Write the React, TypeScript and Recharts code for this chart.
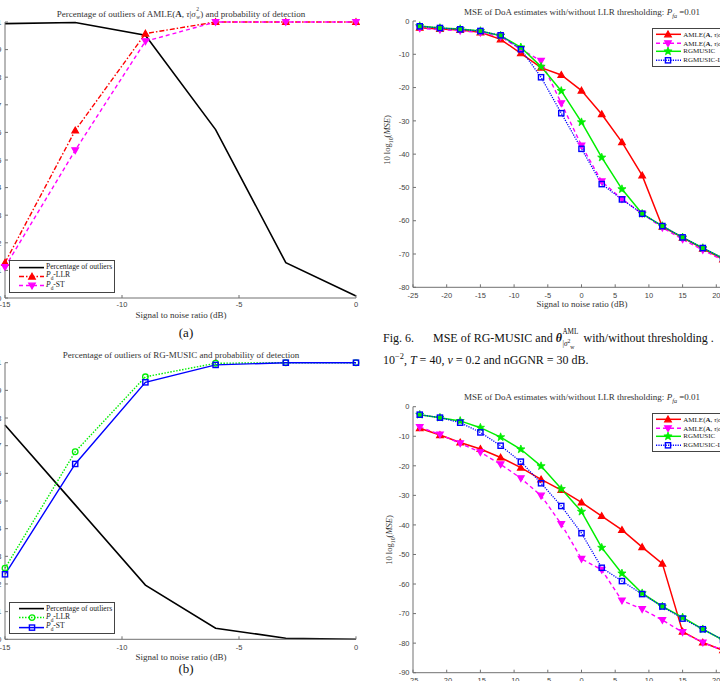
import React from 'react';
import { LineChart, Line, XAxis, YAxis, Legend } from 'recharts';

// ---- data ----
const snrShort = [-15, -12, -9, -6, -3, 0];
const outliersAmle = [0.994, 0.998, 0.952, 0.61, 0.128, 0.007];
const pdLlrAmle = [0.128, 0.607, 0.958, 1.0, 1.0, 1.0];
const pdStAmle = [0.112, 0.535, 0.93, 1.0, 1.0, 1.0];

const outliersRg = [0.775, 0.486, 0.196, 0.04, 0.004, 0.0];
const pdLlrRg = [0.257, 0.678, 0.949, 0.998, 1.0, 1.0];
const pdStRg = [0.235, 0.634, 0.929, 0.992, 1.0, 1.0];

const snrLong = [-24, -21, -18, -15, -12, -9, -6, -3, 0, 3, 6, 9, 12, 15, 18, 21];
// upper MSE plot
const mseAmleUp = [-2.0, -2.4, -2.7, -3.4, -5.5, -9.7, -14.0, -16.2, -20.9, -28.0, -36.4, -46.4, -61.8, -65.1, -68.4, -71.6];
const mseAmleLlrUp = [-2.2, -2.6, -2.9, -3.5, -4.7, -8.5, -12.0, -24.7, -37.4, -48.2, -53.5, -57.9, -62.1, -65.6, -68.8, -71.9];
const mseRgUp = [-1.5, -2.1, -2.4, -3.0, -4.4, -7.9, -13.7, -21.0, -30.4, -41.0, -50.5, -57.9, -61.6, -65.0, -68.2, -71.3];
const mseRgLlrUp = [-1.6, -2.1, -2.5, -3.0, -4.3, -8.5, -16.9, -27.7, -38.4, -49.0, -53.6, -57.9, -61.6, -65.0, -68.2, -71.3];
// lower MSE plot
const mseAmleLo = [-7.3, -9.6, -12.1, -14.3, -17.2, -20.6, -24.6, -28.2, -32.4, -37.0, -41.7, -47.5, -53.1, -76.1, -79.8, -82.4];
const mseAmleLlrLo = [-6.9, -9.4, -12.4, -15.4, -19.5, -24.2, -30.1, -39.7, -51.5, -55.2, -65.6, -68.5, -72.2, -76.3, -79.8, -82.4];
const mseRgLo = [-2.7, -3.7, -4.8, -7.1, -10.3, -14.4, -20.1, -27.8, -35.5, -47.7, -56.4, -63.1, -67.6, -71.3, -75.3, -78.9];
const mseRgLlrLo = [-2.7, -3.7, -5.4, -8.7, -13.2, -18.6, -25.9, -33.6, -42.8, -54.5, -59.0, -63.4, -67.6, -71.7, -75.3, -78.9];

const probTicks = [0, 0.1, 0.2, 0.3, 0.4, 0.5, 0.6, 0.7, 0.8, 0.9, 1];
const snrShortTicks = [-15, -10, -5, 0];
const snrLongTicks = [-25, -20, -15, -10, -5, 0, 5, 10, 15, 20, 25];
const mseTicksUp = [-80, -70, -60, -50, -40, -30, -20, -10, 0];
const mseTicksLo = [-90, -80, -70, -60, -50, -40, -30, -20, -10, 0];

const amleRows = snrShort.map((snr, i) => ({ snr, outliers: outliersAmle[i], llr: pdLlrAmle[i], st: pdStAmle[i] }));
const rgRows = snrShort.map((snr, i) => ({ snr, outliers: outliersRg[i], llr: pdLlrRg[i], st: pdStRg[i] }));
const mseUpRows = snrLong.map((snr, i) => ({ snr, amle: mseAmleUp[i], amleLlr: mseAmleLlrUp[i], rg: mseRgUp[i], rgLlr: mseRgLlrUp[i] }));
const mseLoRows = snrLong.map((snr, i) => ({ snr, amle: mseAmleLo[i], amleLlr: mseAmleLlrLo[i], rg: mseRgLo[i], rgLlr: mseRgLlrLo[i] }));

const RED = '#ff0000';
const MAGENTA = '#ff00ff';
const GREEN = '#00ee00';
const BLUE = '#0000ff';
const AXIS = '#707070';
const TICK_TEXT = '#444';
const serif = '"Liberation Serif", "Times New Roman", serif';
const sans = '"Liberation Sans", Arial, sans-serif';

function starPath(cx: number, cy: number, R: number, r: number) {
  let d = '';
  for (let i = 0; i < 10; i++) {
    const a = -Math.PI / 2 + (i * Math.PI) / 5;
    const rad = i % 2 === 0 ? R : r;
    d += (i ? 'L' : 'M') + (cx + rad * Math.cos(a)).toFixed(2) + ' ' + (cy + rad * Math.sin(a)).toFixed(2);
  }
  return d + 'Z';
}

function Marker({ shape, cx, cy, color, filled }: any) {
  const fill = filled ? color : 'none';
  const s = 3.3;
  if (shape === 'up')
    return <path d={`M${cx} ${cy - s}L${cx + s} ${cy + s * 0.75}L${cx - s} ${cy + s * 0.75}Z`} fill={fill} stroke={color} strokeWidth={1.2} />;
  if (shape === 'down')
    return <path d={`M${cx} ${cy + s}L${cx + s} ${cy - s * 0.75}L${cx - s} ${cy - s * 0.75}Z`} fill={fill} stroke={color} strokeWidth={1.2} />;
  if (shape === 'square')
    return <rect x={cx - 2.6} y={cy - 2.6} width={5.2} height={5.2} fill={fill} stroke={color} strokeWidth={1.4} />;
  if (shape === 'circle')
    return <circle cx={cx} cy={cy} r={2.8} fill={fill} stroke={color} strokeWidth={1.3} />;
  if (shape === 'star')
    return <path d={starPath(cx, cy, 4.3, 1.8)} fill={fill} stroke={color} strokeWidth={0.8} />;
  return null;
}

const dotOf = (shape: string, color: string, filled: boolean) => (p: any) =>
  <Marker key={`${p.dataKey}-${p.index}`} shape={shape} cx={p.cx} cy={p.cy} color={color} filled={filled} />;

// ticks drawn inward, labels outside
const BottomTick = (off: number) => (p: any) => (
  <g>
    <line x1={p.x} y1={p.y} x2={p.x} y2={p.y - 3} stroke={AXIS} />
    <text x={p.x} y={p.y + off} textAnchor="middle" fill={TICK_TEXT} style={{ fontFamily: sans, fontSize: 7.5 }}>
      {p.payload.value}
    </text>
  </g>
);
const LeftTick = (p: any) => (
  <g>
    <line x1={p.x} y1={p.y} x2={p.x + 3} y2={p.y} stroke={AXIS} />
    <text x={p.x - 3.5} y={p.y + 2.7} textAnchor="end" fill={TICK_TEXT} style={{ fontFamily: sans, fontSize: 7.5 }}>
      {p.payload.value}
    </text>
  </g>
);
const TopTick = (p: any) => <line x1={p.x} y1={p.y} x2={p.x} y2={p.y + 3} stroke={AXIS} />;
const RightTick = (p: any) => <line x1={p.x} y1={p.y} x2={p.x - 3} y2={p.y} stroke={AXIS} />;

// superscript over subscript, like LaTeX x^a_b (box spans baseline-1em .. baseline)
function Stack({ top, bottom, size = 0.62, width }: any) {
  return (
    <span style={{ position: 'relative', display: 'inline-block', width, height: '1em', verticalAlign: 'baseline' }}>
      <span style={{ position: 'absolute', left: 0.5, top: '-0.2em', fontSize: `${size}em`, lineHeight: 1 }}>{top}</span>
      <span style={{ position: 'absolute', left: 0.5, top: '1.2em', fontSize: `${size}em`, lineHeight: 1 }}>{bottom}</span>
    </span>
  );
}
const SigmaW = () => (
  <>
    <i>σ</i>
    <Stack top="2" bottom={<i>w</i>} width="0.5em" />
  </>
);

function LegendBox({ items, width, rowH, padTop, x1, x2, mx, textX, fontSize }: any) {
  return (
    <div style={{ width, border: '1px solid #444', background: '#fff', boxSizing: 'border-box', paddingTop: padTop, paddingBottom: padTop, overflow: 'hidden' }}>
      {items.map((it: any, i: number) => (
        <div key={i} style={{ display: 'flex', alignItems: 'center', height: rowH }}>
          <svg width={textX} height={rowH} style={{ flex: 'none' }}>
            <line x1={x1} x2={x2} y1={rowH / 2} y2={rowH / 2} stroke={it.color} strokeWidth={it.width || 1.5} strokeDasharray={it.dash} />
            {it.shape && <Marker shape={it.shape} cx={mx} cy={rowH / 2} color={it.color} filled={it.filled} />}
          </svg>
          <span style={{ fontFamily: serif, fontSize, color: '#222', whiteSpace: 'nowrap', lineHeight: 1 }}>{it.label}</span>
        </div>
      ))}
    </div>
  );
}

function Txt({ x, y, size = 9, color = '#333', rotate, children }: any) {
  return (
    <div
      style={{
        position: 'absolute', left: x, top: y,
        transform: `translate(-50%, -50%)${rotate ? ` rotate(${rotate}deg)` : ''}`,
        fontFamily: serif, fontSize: size, color, whiteSpace: 'nowrap', lineHeight: 1,
      }}
    >
      {children}
    </div>
  );
}

const Pd = ({ s }: any) => (<><i>P</i><sub style={{ fontSize: '0.7em' }}>d</sub>-{s}</>);
const amleLabel = (<>AMLE(<b>A</b>, <i>τ</i>|<SigmaW />)</>);

const legendAmle = [
  { label: 'Percentage of outliers', color: '#000', width: 1.6 },
  { label: <Pd s="LLR" />, color: RED, dash: '5 2 1.5 2', shape: 'up', filled: true },
  { label: <Pd s="ST" />, color: MAGENTA, dash: '4 3', shape: 'down', filled: true },
];
const legendRg = [
  { label: 'Percentage of outliers', color: '#000', width: 1.6 },
  { label: <Pd s="LLR" />, color: GREEN, dash: '1.5 1.5', shape: 'circle', filled: false },
  { label: <Pd s="ST" />, color: BLUE, shape: 'square', filled: false },
];
const legendMse = [
  { label: amleLabel, color: RED, shape: 'up', filled: true },
  { label: <>{amleLabel}-LLR</>, color: MAGENTA, dash: '4 3', shape: 'down', filled: true },
  { label: 'RGMUSIC', color: GREEN, shape: 'star', filled: true },
  { label: 'RGMUSIC-LLR', color: BLUE, dash: '1.2 1.2', shape: 'square', filled: false },
];

const legendPos = (left: number, top: number, width: number) => ({ left, top, width, right: 'auto', bottom: 'auto', height: 'auto' });

function ProbChart({ rows, left, top, height, plotTop, off, legend, legendTop, llrColor, llrDash, llrShape, stColor, stDash, stShape, filled }: any) {
  return (
    <div style={{ position: 'absolute', left, top }}>
      <LineChart width={395} height={height} data={rows} margin={{ top: plotTop, right: 4, bottom: 0, left: 0 }}>
        <XAxis dataKey="snr" type="number" domain={[-15, 0]} ticks={snrShortTicks} interval={0} height={12}
          tickSize={0} tickMargin={0} tickLine={false} axisLine={{ stroke: AXIS }} tick={BottomTick(off)} />
        <XAxis xAxisId="top" orientation="top" type="number" domain={[-15, 0]} ticks={snrShortTicks} interval={0} height={0}
          tickSize={0} tickMargin={0} tickLine={false} axisLine={{ stroke: AXIS }} tick={TopTick} />
        <YAxis type="number" domain={[0, 1]} ticks={probTicks} interval={0} width={40}
          tickSize={0} tickMargin={0} tickLine={false} axisLine={{ stroke: AXIS }} tick={LeftTick} />
        <YAxis yAxisId="right" orientation="right" type="number" domain={[0, 1]} ticks={probTicks} interval={0} width={0}
          tickSize={0} tickMargin={0} tickLine={false} axisLine={{ stroke: AXIS }} tick={RightTick} />
        <Line type="linear" dataKey="outliers" stroke="#000" strokeWidth={1.6} dot={false} isAnimationActive={false} />
        <Line type="linear" dataKey="llr" stroke={llrColor} strokeWidth={1.4} strokeDasharray={llrDash}
          dot={dotOf(llrShape, llrColor, filled)} isAnimationActive={false} />
        <Line type="linear" dataKey="st" stroke={stColor} strokeWidth={1.4} strokeDasharray={stDash}
          dot={dotOf(stShape, stColor, filled)} isAnimationActive={false} />
        <Legend layout="horizontal" verticalAlign="middle" align="center" wrapperStyle={legendPos(44, legendTop, 106)}
          content={() => <LegendBox items={legend} width={106} rowH={9.2} padTop={1.5} x1={9} x2={34} mx={22} textX={36} fontSize={7.6} />} />
      </LineChart>
    </div>
  );
}

function MseChart({ rows, top, height, plotTop, domain, ticks, legendTop }: any) {
  return (
    <div style={{ position: 'absolute', left: 373.3, top }}>
      <LineChart width={382} height={height} data={rows} margin={{ top: plotTop, right: 5, bottom: 0, left: 0 }}>
        <XAxis dataKey="snr" type="number" domain={[-25, 25]} ticks={snrLongTicks} interval={0} height={12}
          tickSize={0} tickMargin={0} tickLine={false} axisLine={{ stroke: AXIS }} tick={BottomTick(10.4)} />
        <XAxis xAxisId="top" orientation="top" type="number" domain={[-25, 25]} ticks={snrLongTicks} interval={0} height={0}
          tickSize={0} tickMargin={0} tickLine={false} axisLine={{ stroke: AXIS }} tick={TopTick} />
        <YAxis type="number" domain={domain} ticks={ticks} interval={0} width={40}
          tickSize={0} tickMargin={0} tickLine={false} axisLine={{ stroke: AXIS }} tick={LeftTick} />
        <YAxis yAxisId="right" orientation="right" type="number" domain={domain} ticks={ticks} interval={0} width={0}
          tickSize={0} tickMargin={0} tickLine={false} axisLine={{ stroke: AXIS }} tick={RightTick} />
        <Line type="linear" dataKey="amle" stroke={RED} strokeWidth={1.5} dot={dotOf('up', RED, true)} isAnimationActive={false} />
        <Line type="linear" dataKey="amleLlr" stroke={MAGENTA} strokeWidth={1.4} strokeDasharray="4 3"
          dot={dotOf('down', MAGENTA, true)} isAnimationActive={false} />
        <Line type="linear" dataKey="rg" stroke={GREEN} strokeWidth={1.5} dot={dotOf('star', GREEN, true)} isAnimationActive={false} />
        <Line type="linear" dataKey="rgLlr" stroke={BLUE} strokeWidth={1.3} strokeDasharray="1.2 1.2"
          dot={dotOf('square', BLUE, false)} isAnimationActive={false} />
        <Legend layout="horizontal" verticalAlign="middle" align="center" wrapperStyle={legendPos(279, legendTop, 96)}
          content={() => <LegendBox items={legendMse} width={96} rowH={8.6} padTop={1.2} x1={3} x2={28} mx={15} textX={30} fontSize={7} />} />
      </LineChart>
    </div>
  );
}

const FaSub = () => <sub style={{ fontSize: '0.7em' }}><i>fa</i></sub>;

export default function App() {
  return (
    <div style={{ position: 'absolute', left: 0, top: 0, width: 720, height: 681, overflow: 'hidden', background: '#fff' }}>
      <ProbChart rows={amleRows} left={-35} top={0} height={310} plotTop={22} off={8.5} legend={legendAmle} legendTop={260}
        llrColor={RED} llrDash="5 2 1.5 2" llrShape="up" stColor={MAGENTA} stDash="4 3" stShape="down" filled />
      <ProbChart rows={rgRows} left={-35} top={340} height={311.3} plotTop={22.7} off={10.5} legend={legendRg} legendTop={261.7}
        llrColor={GREEN} llrDash="1.5 1.5" llrShape="circle" stColor={BLUE} stShape="square" filled={false} />
      <MseChart rows={mseUpRows} top={0} height={299.3} plotTop={21} domain={[-80, 0]} ticks={mseTicksUp} legendTop={28} />
      <MseChart rows={mseLoRows} top={380} height={304.7} plotTop={26.7} domain={[-90, 0]} ticks={mseTicksLo} legendTop={33} />

      <Txt x={181} y={13}>Percentage of outliers of AMLE(<b>A</b>, <i>τ</i>|<SigmaW />) and probability of detection</Txt>
      <Txt x={181} y={315} size={9}>Signal to noise ratio (dB)</Txt>
      <Txt x={186} y={332} size={13} color="#111">(a)</Txt>

      <Txt x={181} y={355}>Percentage of outliers of RG-MUSIC and probability of detection</Txt>
      <Txt x={181} y={657} size={9}>Signal to noise ratio (dB)</Txt>
      <Txt x={186} y={668} size={13} color="#111">(b)</Txt>

      <Txt x={582} y={14}>MSE of DoA estimates with/without LLR thresholding: <i>P</i><FaSub /> =0.01</Txt>
      <Txt x={582} y={304} size={9}>Signal to noise ratio (dB)</Txt>
      <Txt x={389} y={140} size={8.5} rotate={-90}>10 log<sub style={{ fontSize: '0.7em' }}>10</sub>(<i>MSE</i>)</Txt>

      <Txt x={582} y={399}>MSE of DoA estimates with/without LLR thresholding: <i>P</i><FaSub /> =0.01</Txt>
      <Txt x={391} y={540} size={8.5} rotate={-90}>10 log<sub style={{ fontSize: '0.7em' }}>10</sub>(<i>MSE</i>)</Txt>

      <div style={{ position: 'absolute', left: 383, top: 330, fontFamily: serif, fontSize: 12, color: '#111', whiteSpace: 'nowrap', lineHeight: '14px' }}>
        Fig. 6.<span style={{ marginLeft: 19 }}>MSE of RG-MUSIC and </span>
        <b><i>θ</i></b>
        <Stack top="AML" bottom={<>|<i>σ</i><sup style={{ fontSize: '0.8em' }}>2</sup><sub style={{ fontSize: '0.8em' }}>w</sub></>} size={0.6} width="1.55em" />
        {' '}with/without thresholding .
      </div>
      <div style={{ position: 'absolute', left: 383, top: 350, fontFamily: serif, fontSize: 12, color: '#111', whiteSpace: 'nowrap', lineHeight: '14px' }}>
        10<sup style={{ fontSize: '0.7em' }}>−2</sup>, <i>T</i> = 40, <i>ν</i> = 0.2 and nGGNR = 30 dB.
      </div>
    </div>
  );
}
